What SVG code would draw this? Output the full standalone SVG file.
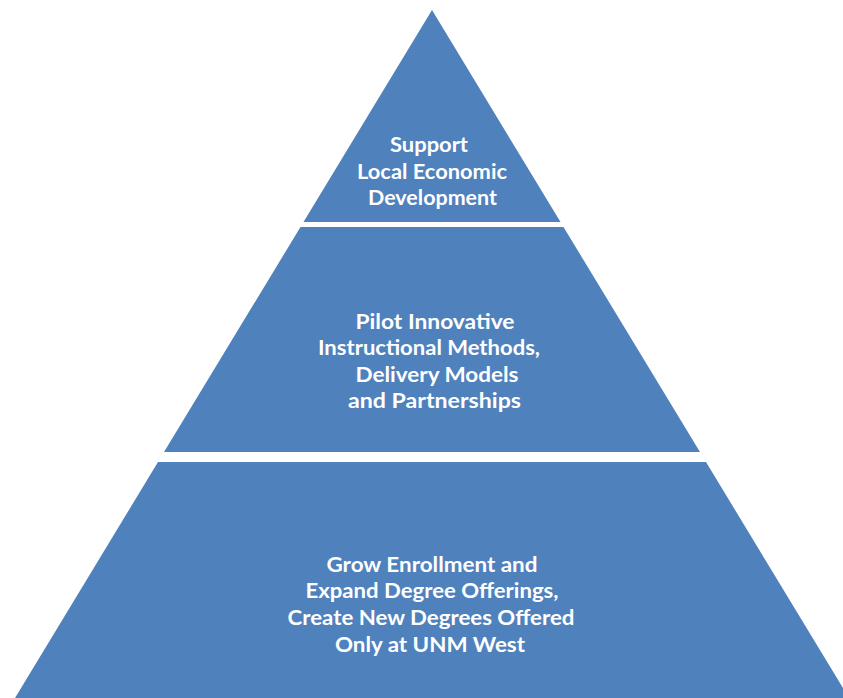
<svg xmlns="http://www.w3.org/2000/svg" width="843" height="698" viewBox="0 0 843 698">
<style>
.layer{fill:#4F81BD;}
.t{font-family:Lato,"Open Sans","Liberation Sans",sans-serif;font-weight:bold;font-size:21px;fill:#FFFFFF;text-anchor:middle;}
</style>
<rect width="843" height="698" fill="#FFFFFF"/>
<g id="top">
<polygon class="layer" points="432,10 560.5,222 303.5,222"/>
<text class="t" x="429" y="152" textLength="78" lengthAdjust="spacingAndGlyphs">Support</text>
<text class="t" x="432" y="179" textLength="150" lengthAdjust="spacingAndGlyphs">Local Economic</text>
<text class="t" x="432.5" y="205" textLength="129" lengthAdjust="spacingAndGlyphs">Development</text>
</g>
<g id="middle">
<polygon class="layer" points="300.5,227 563.5,227 700,452 164,452"/>
<text class="t" x="435" y="329" textLength="159" lengthAdjust="spacingAndGlyphs">Pilot Innovative</text>
<text class="t" x="429" y="355" textLength="222" lengthAdjust="spacingAndGlyphs">Instructional Methods,</text>
<text class="t" x="437" y="382" textLength="163" lengthAdjust="spacingAndGlyphs">Delivery Models</text>
<text class="t" x="434.5" y="408" textLength="173" lengthAdjust="spacingAndGlyphs">and Partnerships</text>
</g>
<g id="bottom">
<polygon class="layer" points="158,462 706,462 849,698 15,698"/>
<text class="t" x="432" y="572" textLength="211" lengthAdjust="spacingAndGlyphs">Grow Enrollment and</text>
<text class="t" x="432" y="598" textLength="253" lengthAdjust="spacingAndGlyphs">Expand Degree Offerings,</text>
<text class="t" x="431" y="625" textLength="287" lengthAdjust="spacingAndGlyphs">Create New Degrees Offered</text>
<text class="t" x="430" y="652" textLength="190" lengthAdjust="spacingAndGlyphs">Only at UNM West</text>
</g>
<g id="connectors"></g>
</svg>
